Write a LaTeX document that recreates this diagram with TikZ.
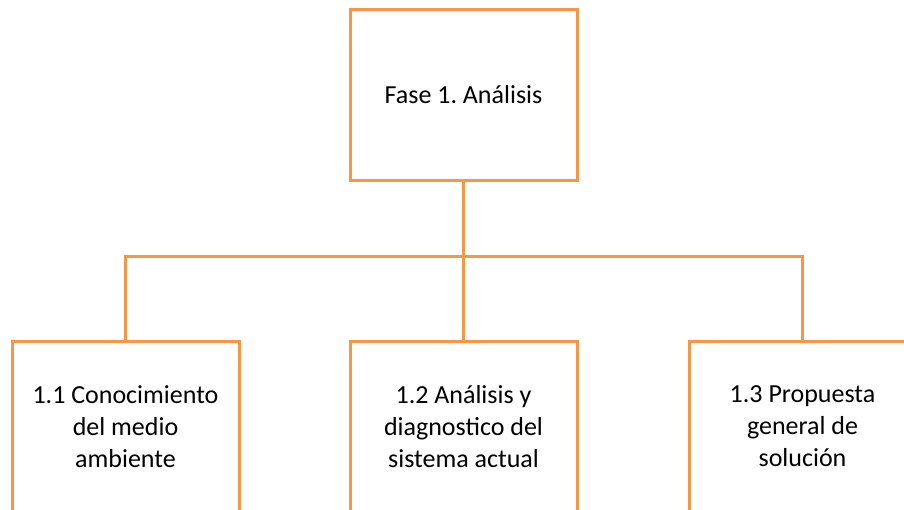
\documentclass[tikz,border=0pt]{standalone}
\usepackage{fontspec}
\setmainfont{Carlito}
\definecolor{boxorange}{HTML}{F79646}
\frenchspacing
\begin{document}
\begin{tikzpicture}[x=1pt,y=-1pt,
  stagebox/.style={draw=boxorange, line width=3pt, minimum width=227pt, minimum height=171pt,
    inner sep=0pt, align=center, fill=white, font=\fontsize{26}{32}\selectfont},
  link/.style={draw=boxorange, line width=3pt}]
\useasboundingbox (0,0) rectangle (904,509);
\clip (0,0) rectangle (904,509);
\node[stagebox] (top) at (463.5,94.5) {Fase 1. Análisis};
\node[stagebox] (b1) at (125.5,426.5) {1.1 Conocimiento\\del medio\\ambiente};
\node[stagebox] (b2) at (463.5,426.5) {1.2 Análisis y\\diagnostico del\\sistema actual};
\node[stagebox] (b3) at (802.5,426.5) {1.3 Propuesta\\general de\\solución};
\coordinate (hub) at (463.5,256);
\draw[link] (top.south) -- (hub);
\draw[link] (b1.north) -- (b1.north |- hub) -- (b3.north |- hub) -- (b3.north);
\draw[link] (hub) -- (b2.north);
\end{tikzpicture}
\end{document}
